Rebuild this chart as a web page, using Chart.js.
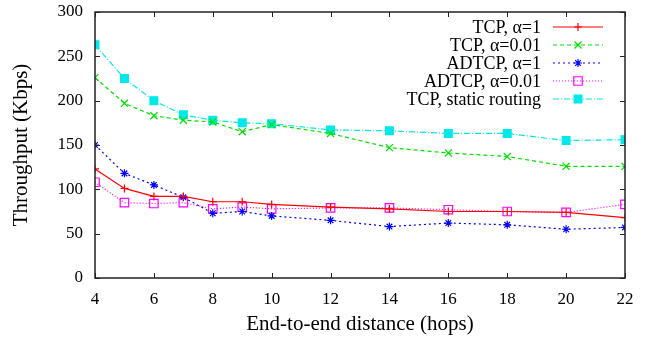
<!DOCTYPE html>
<html>
<head>
<meta charset="utf-8">
<script src="https://cdn.jsdelivr.net/npm/chart.js"></script>
<style>
  html, body { margin: 0; padding: 0; background: #fff; }
  #wrap { width: 648px; height: 340px; }
</style>
</head>
<body>
<div id="wrap"><canvas id="chart" width="648" height="340"></canvas></div>
<script>
// values
const hops = [4, 5, 6, 7, 8, 9, 10, 12, 14, 16, 18, 20, 22];
const tcpA1 = [123, 101, 92, 92, 86, 86, 83, 80, 78, 75, 75, 74, 68];
const tcpA001 = [226, 197, 183, 178, 176, 165, 173, 163, 147, 141, 137, 126, 126];
const adtcpA1 = [150, 118, 105, 91, 73, 75, 70, 65, 58, 62, 60, 55, 57];
const adtcpA001 = [108, 85, 84, 85, 78, 80, 78, 79, 79, 77, 75, 74, 83];
const tcpStatic = [263, 225, 200, 184, 178, 175, 174, 167, 166, 163, 163, 155, 156];
const yTicks = [0, 50, 100, 150, 200, 250, 300];
const xTicks = [4, 6, 8, 10, 12, 14, 16, 18, 20, 22];

const serif = '"Liberation Serif", "DejaVu Serif", serif';

const toPoints = arr => arr.map((v, i) => ({ x: hops[i], y: v }));

function series(label, values, color, dash, style, radius, filled) {
  return {
    label: label,
    data: toPoints(values),
    borderColor: color,
    backgroundColor: filled ? color : 'rgba(0,0,0,0)',
    borderWidth: 1.2,
    borderDash: dash,
    pointStyle: style,
    pointRadius: radius,
    pointBorderColor: color,
    pointBackgroundColor: filled ? color : 'rgba(0,0,0,0)',
    pointBorderWidth: 1.2,
    tension: 0,
    fill: false
  };
}

const datasets = [
  series('TCP, \u03b1=1', tcpA1, '#ff0000', [], 'cross', 4, false),
  series('TCP, \u03b1=0.01', tcpA001, '#00e000', [4, 3], 'crossRot', 5, false),
  series('ADTCP, \u03b1=1', adtcpA1, '#0000ff', [2, 3], 'star', 4, false),
  series('ADTCP, \u03b1=0.01', adtcpA001, '#ff00ff', [1, 2], 'rect', 6, false),
  series('TCP, static routing', tcpStatic, '#00e8e8', [6, 2, 1, 2], 'rect', 5.5, true)
];

// box with inward ticks on all four sides
const frame = {
  id: 'frame',
  afterDraw(chart) {
    const { ctx, chartArea: a, scales } = chart;
    ctx.save();
    ctx.strokeStyle = '#222';
    ctx.lineWidth = 1.5;
    ctx.setLineDash([]);
    ctx.strokeRect(a.left, a.top, a.right - a.left, a.bottom - a.top);
    ctx.lineWidth = 1;
    const t = 5;
    ctx.beginPath();
    yTicks.forEach(v => {
      const y = Math.round(scales.y.getPixelForValue(v)) + 0.5;
      ctx.moveTo(a.left, y); ctx.lineTo(a.left + t, y);
      ctx.moveTo(a.right, y); ctx.lineTo(a.right - t, y);
    });
    xTicks.forEach(v => {
      const x = Math.round(scales.x.getPixelForValue(v)) + 0.5;
      ctx.moveTo(x, a.bottom); ctx.lineTo(x, a.bottom - t);
      ctx.moveTo(x, a.top); ctx.lineTo(x, a.top + t);
    });
    ctx.stroke();
    ctx.restore();
  }
};

// gnuplot-style key: right-aligned text, sample line to its right
const key = {
  id: 'key',
  afterDatasetsDraw(chart) {
    const { ctx } = chart;
    const textRight = 541, x0 = 553, x1 = 603, top = 27, step = 18;
    ctx.save();
    ctx.font = '18px ' + serif;
    ctx.textAlign = 'right';
    ctx.textBaseline = 'middle';
    chart.data.datasets.forEach((ds, i) => {
      const y = top + i * step;
      ctx.fillStyle = '#000';
      ctx.fillText(ds.label, textRight, y + 1);
      ctx.strokeStyle = ds.borderColor;
      ctx.lineWidth = ds.borderWidth;
      ctx.setLineDash(ds.borderDash);
      ctx.beginPath();
      ctx.moveTo(x0, y); ctx.lineTo(x1, y);
      ctx.stroke();
      ctx.setLineDash([]);
      ctx.fillStyle = ds.pointBackgroundColor;
      ctx.strokeStyle = ds.pointBorderColor;
      ctx.lineWidth = ds.pointBorderWidth;
      Chart.helpers.drawPoint(ctx, { pointStyle: ds.pointStyle, radius: ds.pointRadius, borderWidth: ds.pointBorderWidth, rotation: 0 }, (x0 + x1) / 2, y);
    });
    ctx.restore();
  }
};

new Chart(document.getElementById('chart').getContext('2d'), {
  type: 'line',
  data: { datasets: datasets },
  options: {
    responsive: false,
    animation: false,
    devicePixelRatio: 1,
    layout: { padding: { top: 12, right: 23, left: 0, bottom: 0 } },
    plugins: { legend: { display: false }, tooltip: { enabled: false } },
    scales: {
      x: {
        type: 'linear',
        min: 4, max: 22,
        afterBuildTicks: s => { s.ticks = xTicks.map(v => ({ value: v })); },
        afterFit: s => { s.height = 62; s.paddingLeft = 0; s.paddingRight = 0; },
        grid: { display: false, drawTicks: false },
        border: { display: false },
        ticks: { color: '#000', font: { family: serif, size: 17 }, padding: 11, maxRotation: 0 },
        title: { display: true, text: 'End-to-end distance (hops)', color: '#000', font: { family: serif, size: 21 }, padding: { bottom: 3 } }
      },
      y: {
        min: 0, max: 300,
        afterBuildTicks: s => { s.ticks = yTicks.map(v => ({ value: v })); },
        afterFit: s => { s.width = 95; s.paddingTop = 0; s.paddingBottom = 0; },
        grid: { display: false, drawTicks: false },
        border: { display: false },
        ticks: { color: '#000', font: { family: serif, size: 17 }, padding: 12 },
        title: { display: true, text: 'Throughput (Kbps)', color: '#000', font: { family: serif, size: 21 }, padding: { top: 9 } }
      }
    }
  },
  plugins: [frame, key]
});
</script>
</body>
</html>
